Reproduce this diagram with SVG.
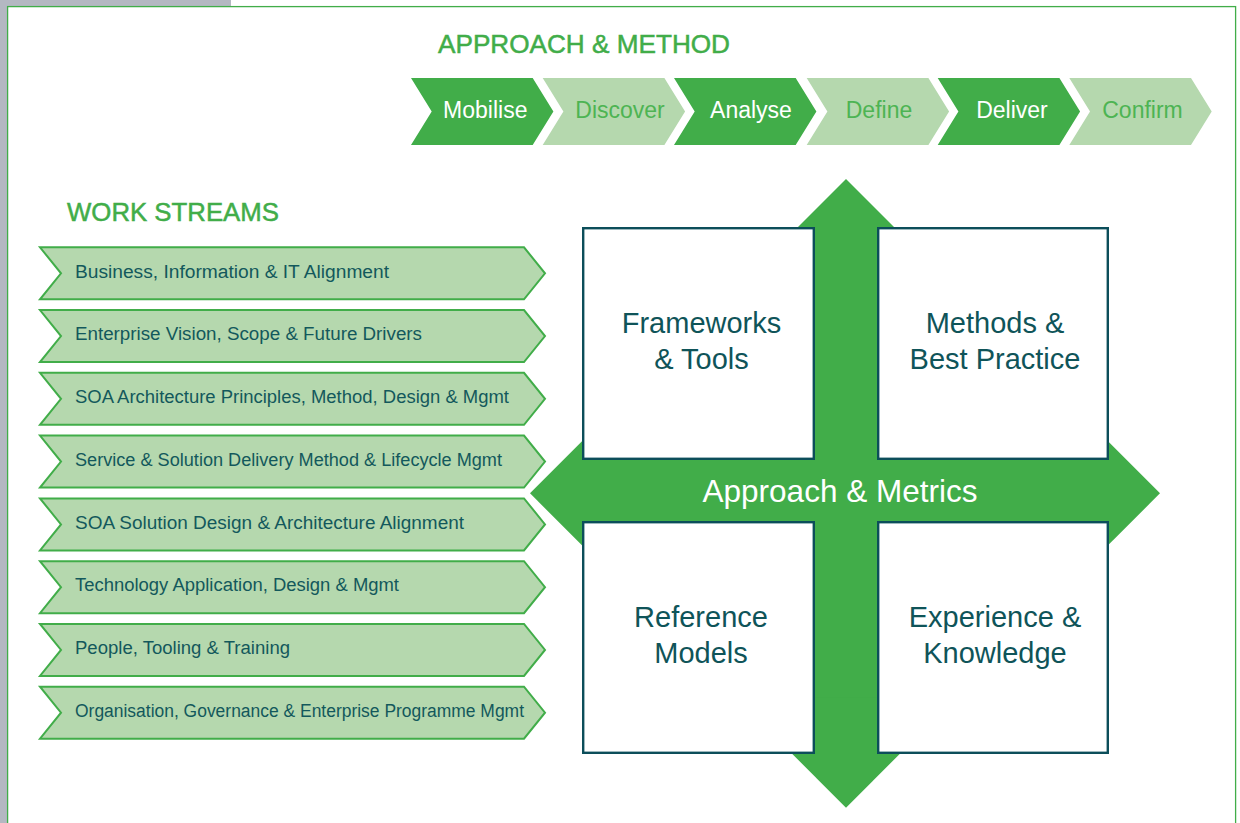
<svg xmlns="http://www.w3.org/2000/svg" width="1240" height="823" viewBox="0 0 1240 823">
  <style>
    .title { font-family: "Liberation Sans", Arial, sans-serif; font-size: 26px; fill: #41ad49; stroke: #41ad49; stroke-width: 0.5; }
    .phase { font-family: "Liberation Sans", Arial, sans-serif; font-size: 23px; text-anchor: middle; }
    .dark { fill: #41ad49; }
    .light { fill: #b5d8ae; }
    .darktxt { fill: #ffffff; }
    .lighttxt { fill: #4db453; }
    .ws { fill: #b5d8ae; stroke: #41ad49; stroke-width: 2; stroke-linejoin: miter; }
    .wstxt { font-family: "Liberation Sans", Arial, sans-serif; font-size: 18px; fill: #13585c; }
    .box { fill: #ffffff; stroke: #0c4e5a; stroke-width: 2.4; }
    .boxtxt { font-family: "Liberation Sans", Arial, sans-serif; font-size: 29px; fill: #0f5459; text-anchor: middle; }
    .cross { fill: #41ad49; }
  </style>

  <!-- page background -->
  <rect x="0" y="0" width="1240" height="823" fill="#ffffff"/>
  <rect x="0" y="0" width="7" height="823" fill="#b4b8c2"/>
  <rect x="0" y="0" width="231" height="6" fill="#b4b8c2"/>
  <rect x="7.6" y="6.6" width="1228" height="830" fill="none" stroke="#41ad49" stroke-width="1.3"/>

  <text class="title" x="438" y="53" textLength="292" lengthAdjust="spacingAndGlyphs">APPROACH &amp; METHOD</text>

  <!-- phases -->
  <g id="phase-mobilise">
    <polygon class="dark" points="411,78 532.7,78 553.4,111.5 532.7,145 411,145 431.7,111.5"/>
    <text class="phase darktxt" x="485.3" y="117.5">Mobilise</text>
  </g>
  <g id="phase-discover">
    <polygon class="light" points="542.7,78 664.4,78 685.1,111.5 664.4,145 542.7,145 563.4,111.5"/>
    <text class="phase lighttxt" x="620" y="117.5">Discover</text>
  </g>
  <g id="phase-analyse">
    <polygon class="dark" points="674,78 795.7,78 816.4,111.5 795.7,145 674,145 694.7,111.5"/>
    <text class="phase darktxt" x="751" y="117.5">Analyse</text>
  </g>
  <g id="phase-define">
    <polygon class="light" points="806.7,78 928.4,78 949.1,111.5 928.4,145 806.7,145 827.4,111.5"/>
    <text class="phase lighttxt" x="879" y="117.5">Define</text>
  </g>
  <g id="phase-deliver">
    <polygon class="dark" points="937.7,78 1059.4,78 1080.1,111.5 1059.4,145 937.7,145 958.4,111.5"/>
    <text class="phase darktxt" x="1012" y="117.5">Deliver</text>
  </g>
  <g id="phase-confirm">
    <polygon class="light" points="1069.3,78 1191,78 1211.7,111.5 1191,145 1069.3,145 1090,111.5"/>
    <text class="phase lighttxt" x="1142.5" y="117.5">Confirm</text>
  </g>

  <text class="title" x="67" y="221" textLength="212" lengthAdjust="spacingAndGlyphs">WORK STREAMS</text>

  <!-- work streams -->
  <g id="ws-1">
    <polygon class="ws" points="40,247.3 524,247.3 545,273.3 524,299.3 40,299.3 61,273.3"/>
    <text class="wstxt" x="75" y="277.5" textLength="314" lengthAdjust="spacingAndGlyphs">Business, Information &amp; IT Alignment</text>
  </g>
  <g id="ws-2">
    <polygon class="ws" points="40,310.1 524,310.1 545,336.1 524,362.1 40,362.1 61,336.1"/>
    <text class="wstxt" x="75" y="340.3" textLength="347" lengthAdjust="spacingAndGlyphs">Enterprise Vision, Scope &amp; Future Drivers</text>
  </g>
  <g id="ws-3">
    <polygon class="ws" points="40,372.8 524,372.8 545,398.8 524,424.8 40,424.8 61,398.8"/>
    <text class="wstxt" x="75" y="403" textLength="434" lengthAdjust="spacingAndGlyphs">SOA Architecture Principles, Method, Design &amp; Mgmt</text>
  </g>
  <g id="ws-4">
    <polygon class="ws" points="40,435.6 524,435.6 545,461.6 524,487.6 40,487.6 61,461.6"/>
    <text class="wstxt" x="75" y="465.8" textLength="427" lengthAdjust="spacingAndGlyphs">Service &amp; Solution Delivery Method &amp; Lifecycle Mgmt</text>
  </g>
  <g id="ws-5">
    <polygon class="ws" points="40,498.4 524,498.4 545,524.4 524,550.4 40,550.4 61,524.4"/>
    <text class="wstxt" x="75" y="528.6" textLength="389" lengthAdjust="spacingAndGlyphs">SOA Solution Design &amp; Architecture Alignment</text>
  </g>
  <g id="ws-6">
    <polygon class="ws" points="40,561.2 524,561.2 545,587.2 524,613.2 40,613.2 61,587.2"/>
    <text class="wstxt" x="75" y="591.4" textLength="324" lengthAdjust="spacingAndGlyphs">Technology Application, Design &amp; Mgmt</text>
  </g>
  <g id="ws-7">
    <polygon class="ws" points="40,623.9 524,623.9 545,649.9 524,675.9 40,675.9 61,649.9"/>
    <text class="wstxt" x="75" y="654.1" textLength="215" lengthAdjust="spacingAndGlyphs">People, Tooling &amp; Training</text>
  </g>
  <g id="ws-8">
    <polygon class="ws" points="40,686.7 524,686.7 545,712.7 524,738.7 40,738.7 61,712.7"/>
    <text class="wstxt" x="75" y="716.9" textLength="449" lengthAdjust="spacingAndGlyphs">Organisation, Governance &amp; Enterprise Programme Mgmt</text>
  </g>

  <!-- four-way arrow -->
  <g id="cross">
    <rect class="cross" x="800" y="240" width="92" height="505"/>
    <rect class="cross" x="595" y="450" width="505" height="86"/>
    <polygon class="cross" points="846,179 736,289 956,289"/>
    <polygon class="cross" points="846,807.7 736,697.7 956,697.7"/>
    <polygon class="cross" points="530,493.3 640,383.3 640,603.3"/>
    <polygon class="cross" points="1160,493.3 1050,383.3 1050,603.3"/>
    <text x="840" y="502.3" font-family="Liberation Sans, Arial, sans-serif" font-size="31.5" fill="#ffffff" text-anchor="middle">Approach &amp; Metrics</text>
  </g>

  <!-- quadrant boxes -->
  <g id="box-frameworks">
    <rect class="box" x="583.2" y="228.2" width="230.6" height="230.6"/>
    <text class="boxtxt" x="701.5" y="333.3">Frameworks</text>
    <text class="boxtxt" x="701.5" y="369.3">&amp; Tools</text>
  </g>
  <g id="box-methods">
    <rect class="box" x="878.2" y="228.2" width="229.6" height="230.6"/>
    <text class="boxtxt" x="995" y="333.3">Methods &amp;</text>
    <text class="boxtxt" x="995" y="369.3">Best Practice</text>
  </g>
  <g id="box-reference">
    <rect class="box" x="583.2" y="522.2" width="230.6" height="230.6"/>
    <text class="boxtxt" x="701" y="626.7">Reference</text>
    <text class="boxtxt" x="701" y="662.7">Models</text>
  </g>
  <g id="box-experience">
    <rect class="box" x="878.2" y="522.2" width="229.6" height="230.6"/>
    <text class="boxtxt" x="995" y="626.7">Experience &amp;</text>
    <text class="boxtxt" x="995" y="662.7">Knowledge</text>
  </g>
</svg>
